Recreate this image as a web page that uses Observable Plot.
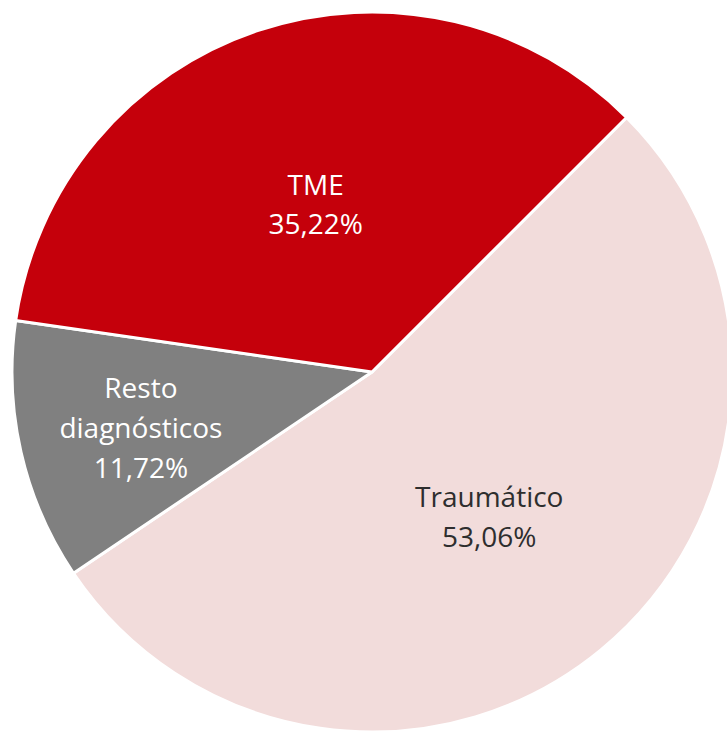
<!DOCTYPE html>
<html>
<head>
<meta charset="utf-8">
<script src="https://cdn.jsdelivr.net/npm/d3@7"></script>
<script src="https://cdn.jsdelivr.net/npm/@observablehq/plot@0.6"></script>
<style>
  html, body { margin: 0; padding: 0; background: #fff; }
</style>
</head>
<body>
<div id="chart"></div>
<script>
// Data
const categories = ["Traumático", "Resto diagnósticos", "TME"];
const values = [53.06, 11.72, 35.22];
const sliceColors = ["#F2DCDB", "#808080", "#C5000B"];
const textColors = ["#2e2e2e", "#ffffff", "#ffffff"];
const labelRadius = [0.51, 0.66, 0.5];

const rows = categories.map((c, i) => ({ category: c, value: values[i], i }));
const pie = d3.pie().value(d => d.value).sort(null).startAngle(Math.PI / 4).endAngle(Math.PI / 4 + 2 * Math.PI);
const arcs = pie(rows);
const color = d3.scaleOrdinal(categories, sliceColors);

const fmt = v => v.toFixed(2).replace(".", ",") + "%";
const labels = arcs.map((a, i) => {
  const mid = (a.startAngle + a.endAngle) / 2;
  return {
    x: labelRadius[i] * Math.sin(mid),
    y: -labelRadius[i] * Math.cos(mid),
    text: a.data.category.replace(" ", "\n") + "\n" + fmt(a.data.value),
    fill: textColors[i]
  };
});

function pieMark(index, scales) {
  const cx = scales.x(0), cy = scales.y(0), r = scales.x(1) - cx;
  const arcGen = d3.arc().innerRadius(0).outerRadius(r);
  const g = d3.create("svg:g").attr("transform", `translate(${cx},${cy})`);
  g.selectAll("path")
    .data(arcs)
    .join("path")
    .attr("d", arcGen)
    .attr("fill", d => color(d.data.category))
    .attr("stroke", "#ffffff")
    .attr("stroke-width", 3)
    .attr("stroke-linejoin", "round");
  return g.node();
}

const chart = Plot.plot({
  width: 727,
  height: 731,
  margin: 0,
  style: { fontFamily: "Open Sans", background: "#fff" },
  x: { domain: [-1, 1], range: [12, 732], axis: null },
  y: { domain: [-1, 1], range: [12, 732], axis: null },
  marks: [
    pieMark,
    Plot.text(labels, {
      x: "x",
      y: "y",
      text: "text",
      fill: "fill",
      fontSize: 28,
      lineHeight: 1.42,
      fontFamily: "Open Sans",
      textAnchor: "middle"
    })
  ]
});
document.getElementById("chart").appendChild(chart);
</script>
</body>
</html>
